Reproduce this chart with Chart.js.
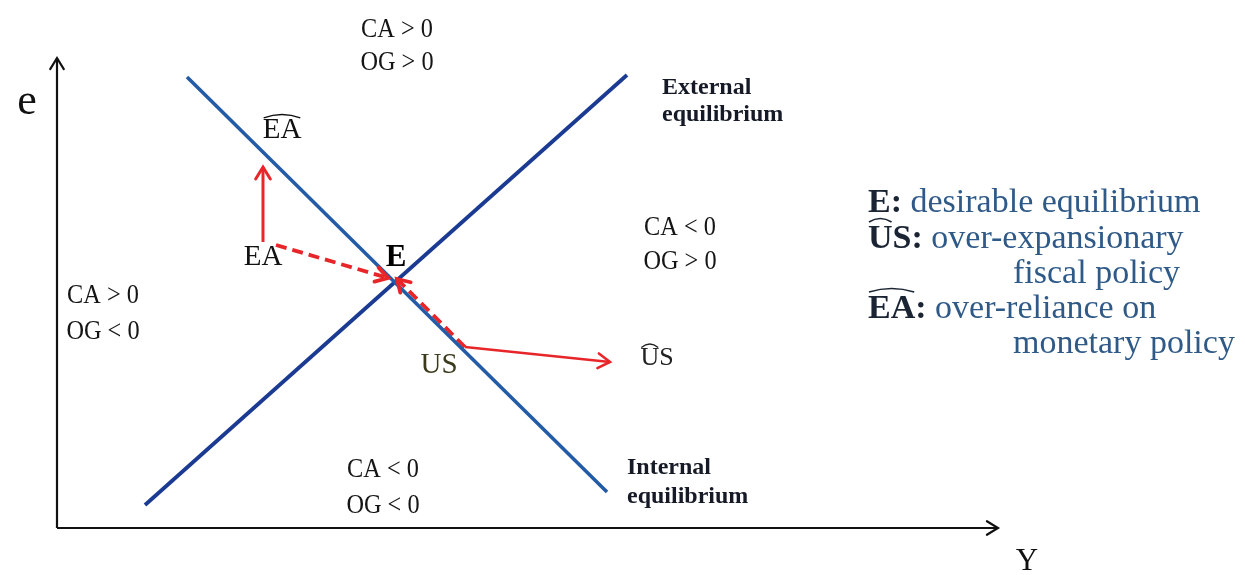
<!DOCTYPE html>
<html>
<head>
<meta charset="utf-8">
<script src="https://cdn.jsdelivr.net/npm/chart.js@4.4.1/dist/chart.umd.min.js"></script>
<style>
  html, body { margin: 0; padding: 0; background: #fff; }
  #wrap { width: 1245px; height: 575px; }
</style>
</head>
<body>
<div id="wrap"><canvas id="c" width="1245" height="575"></canvas></div>
<script>
// diagram units: output Y to the right, exchange rate e upward
const axisY = [{x: 0, y: 0}, {x: 94.1, y: 0}]
const axisE = [{x: 0, y: 0}, {x: 0, y: 47.0}]
const internalEq = [{x: 13.0, y: 45.1}, {x: 55.0, y: 3.6}]
const externalEq = [{x: 8.8, y: 2.3}, {x: 57.0, y: 45.3}]
const eaUp = [{x: 20.6, y: 28.6}, {x: 20.6, y: 36.1}]
const eaToE = [{x: 21.9, y: 28.3}, {x: 33.1, y: 25.0}]
const usRight = [{x: 40.8, y: 18.1}, {x: 55.3, y: 16.6}]
const usToE = [{x: 40.8, y: 18.1}, {x: 34.0, y: 24.9}]

const serif = '"Liberation Serif", "Times New Roman", serif'

// region labels (centres)
const zoneLabels = [
    {t: 'CA > 0', x: 34.0, y: 49.8}, {t: 'OG > 0', x: 34.0, y: 46.5},
    {t: 'CA < 0', x: 62.3, y: 30.0}, {t: 'OG > 0', x: 62.3, y: 26.6},
    {t: 'CA > 0', x: 4.6, y: 23.2}, {t: 'OG < 0', x: 4.6, y: 19.6},
    {t: 'CA < 0', x: 32.6, y: 5.8}, {t: 'OG < 0', x: 32.6, y: 2.2}
]
const curveLabels = [
    {t: 'External', x: 60.5, y: 44.0}, {t: 'equilibrium', x: 60.5, y: 41.3},
    {t: 'Internal', x: 57.0, y: 6.0}, {t: 'equilibrium', x: 57.0, y: 3.1}
]
const pointLabels = [
    {t: 'EA', x: 22.5, y: 39.8, hat: 'EA', color: '#111', size: 29},
    {t: 'EA', x: 20.6, y: 27.1, color: '#111', size: 29},
    {t: 'E', x: 33.9, y: 27.0, bold: true, color: '#000', size: 31},
    {t: 'US', x: 38.2, y: 16.3, color: '#3b3a1c', size: 29},
    {t: 'US', x: 60.0, y: 17.0, hat: 'U', color: '#222', size: 26}
]
const keyLines = [
    {b: 'E:', t: ' desirable equilibrium', x: 81.1, y: 32.5},
    {b: 'US:', t: ' over-expansionary', x: 81.1, y: 28.9, hat: 'U'},
    {b: '', t: 'fiscal policy', x: 95.6, y: 25.4},
    {b: 'EA:', t: ' over-reliance on', x: 81.1, y: 21.9, hat: 'EA'},
    {b: '', t: 'monetary policy', x: 95.6, y: 18.4}
]

function seg(data, color, width, dash, arrow) {
    return {
        data: data, showLine: true, borderColor: color, borderWidth: width,
        borderDash: dash || [], pointRadius: 0, fill: false, arrow: arrow
    }
}

function drawHat(ctx, left, w, top) {
    ctx.beginPath()
    ctx.moveTo(left + 1, top + 3)
    ctx.quadraticCurveTo(left + w / 2, top - 4, left + w - 1, top + 3)
    ctx.stroke()
}

const arrowPlugin = {
    id: 'arrows',
    afterDatasetsDraw(chart) {
        const ctx = chart.ctx
        const sx = chart.scales.x, sy = chart.scales.y
        chart.data.datasets.forEach(ds => {
            if (!ds.arrow) return
            const n = ds.data.length
            const x1 = sx.getPixelForValue(ds.data[n - 2].x), y1 = sy.getPixelForValue(ds.data[n - 2].y)
            const x2 = sx.getPixelForValue(ds.data[n - 1].x), y2 = sy.getPixelForValue(ds.data[n - 1].y)
            const a = Math.atan2(y2 - y1, x2 - x1)
            const len = ds.arrow, spread = 0.55
            ctx.save()
            ctx.strokeStyle = ds.borderColor
            ctx.lineWidth = ds.borderWidth
            ctx.lineCap = 'round'
            ctx.lineJoin = 'miter'
            ctx.setLineDash([])
            ctx.beginPath()
            ctx.moveTo(x2 - len * Math.cos(a - spread), y2 - len * Math.sin(a - spread))
            ctx.lineTo(x2, y2)
            ctx.lineTo(x2 - len * Math.cos(a + spread), y2 - len * Math.sin(a + spread))
            ctx.stroke()
            ctx.restore()
        })
    }
}

const textPlugin = {
    id: 'texts',
    afterDraw(chart) {
        const ctx = chart.ctx
        const sx = chart.scales.x, sy = chart.scales.y
        const px = v => sx.getPixelForValue(v), py = v => sy.getPixelForValue(v)
        ctx.save()
        ctx.textBaseline = 'middle'

        // axis names
        ctx.fillStyle = '#111'
        ctx.textAlign = 'center'
        ctx.font = '44px ' + serif
        ctx.fillText('e', px(-3.0), py(42.6))
        ctx.font = '31px ' + serif
        ctx.fillText('Y', px(97.0), py(-3.4))

        // zone labels, slightly narrowed like the original
        ctx.font = '27px ' + serif
        ctx.fillStyle = '#151515'
        ctx.textAlign = 'left'
        zoneLabels.forEach(l => {
            const w = ctx.measureText(l.t).width
            ctx.save()
            ctx.translate(px(l.x), py(l.y))
            ctx.scale(0.9, 1)
            ctx.fillText(l.t, -w / 2, 0)
            ctx.restore()
        })

        ctx.font = 'bold 24px ' + serif
        ctx.fillStyle = '#151a26'
        curveLabels.forEach(l => ctx.fillText(l.t, px(l.x), py(l.y)))

        pointLabels.forEach(l => {
            ctx.font = (l.bold ? 'bold ' : '') + l.size + 'px ' + serif
            ctx.fillStyle = l.color
            ctx.textAlign = 'center'
            const x = px(l.x), y = py(l.y)
            ctx.fillText(l.t, x, y)
            if (l.hat) {
                const w = ctx.measureText(l.t).width
                const hw = ctx.measureText(l.hat).width
                ctx.strokeStyle = l.color
                ctx.lineWidth = 1.5
                drawHat(ctx, x - w / 2, hw, y - l.size * 0.52)
            }
        })

        ctx.textAlign = 'left'
        keyLines.forEach(l => {
            const x = px(l.x), y = py(l.y)
            let w = 0
            if (l.b) {
                ctx.font = 'bold 34px ' + serif
                ctx.fillStyle = '#1b2433'
                ctx.fillText(l.b, x, y)
                w = ctx.measureText(l.b).width
                if (l.hat) {
                    ctx.strokeStyle = '#1b2433'
                    ctx.lineWidth = 1.7
                    drawHat(ctx, x, ctx.measureText(l.hat).width, y - 20)
                }
            }
            ctx.font = '34px ' + serif
            ctx.fillStyle = '#2f5a88'
            ctx.fillText(l.t, x + w, y)
        })
        ctx.restore()
    }
}

const ctx = document.getElementById('c').getContext('2d')
new Chart(ctx, {
    type: 'scatter',
    data: {
        datasets: [
            seg(axisY, '#111', 2.2, null, 13),
            seg(axisE, '#111', 2.2, null, 13),
            seg(internalEq, '#235ba6', 3.6),
            seg(externalEq, '#1b3b93', 3.8),
            seg(eaUp, '#e8262a', 3, null, 14),
            seg(eaToE, '#e8262a', 3.8, [11, 6], 14),
            seg(usRight, '#e8262a', 2.6, null, 14),
            seg(usToE, '#e8262a', 3.8, [11, 6], 14)
        ]
    },
    options: {
        responsive: false,
        animation: false,
        layout: {padding: 0},
        plugins: {legend: {display: false}, tooltip: {enabled: false}, title: {display: false}},
        scales: {
            x: {type: 'linear', min: -5.7, max: 118.8, display: false},
            y: {type: 'linear', min: -4.7, max: 52.8, display: false}
        }
    },
    plugins: [arrowPlugin, textPlugin]
})
</script>
</body>
</html>
